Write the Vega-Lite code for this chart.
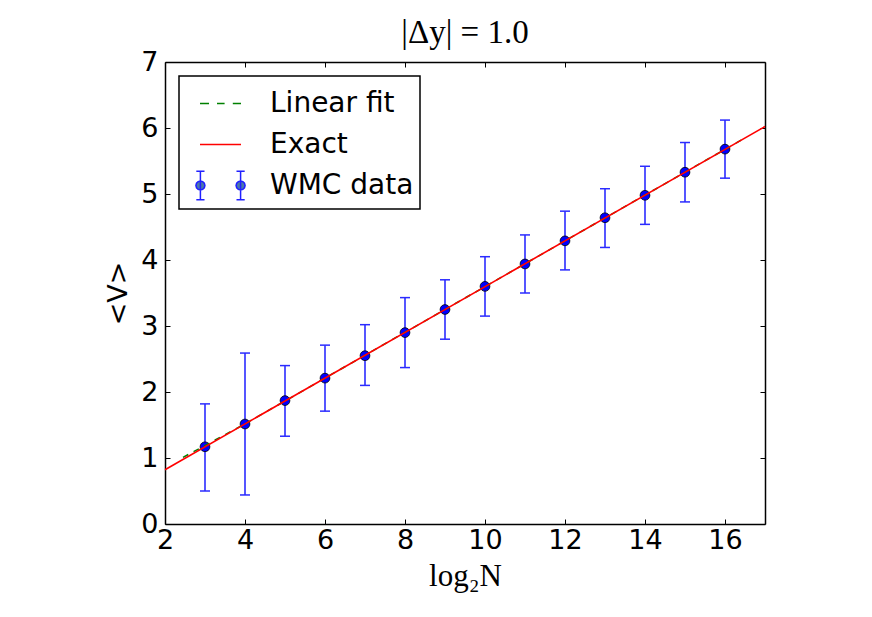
{
  "$schema": "https://vega.github.io/schema/vega-lite/v6.json",
  "width": 600,
  "height": 462,
  "autosize": "none",
  "padding": {"left": 165, "top": 62, "right": 107, "bottom": 93},
  "background": "white",
  "title": {
    "text": "|Δy| = 1.0",
    "font": "Liberation Serif",
    "fontSize": 33,
    "fontWeight": "normal",
    "color": "black",
    "baseline": "bottom",
    "frame": "group",
    "offset": 10,
    "dy": 45,
    "anchor": "middle"
  },
  "datasets": {
    "wmc": [
      {"x": 3, "y": 1.17, "lo": 0.50, "hi": 1.82},
      {"x": 4, "y": 1.515, "lo": 0.44, "hi": 2.59},
      {"x": 5, "y": 1.87, "lo": 1.33, "hi": 2.40},
      {"x": 6, "y": 2.21, "lo": 1.71, "hi": 2.71},
      {"x": 7, "y": 2.55, "lo": 2.10, "hi": 3.02},
      {"x": 8, "y": 2.90, "lo": 2.37, "hi": 3.43},
      {"x": 9, "y": 3.25, "lo": 2.80, "hi": 3.70},
      {"x": 10, "y": 3.60, "lo": 3.15, "hi": 4.05},
      {"x": 11, "y": 3.94, "lo": 3.50, "hi": 4.38},
      {"x": 12, "y": 4.29, "lo": 3.85, "hi": 4.74},
      {"x": 13, "y": 4.64, "lo": 4.19, "hi": 5.08},
      {"x": 14, "y": 4.98, "lo": 4.54, "hi": 5.42},
      {"x": 15, "y": 5.33, "lo": 4.88, "hi": 5.78},
      {"x": 16, "y": 5.68, "lo": 5.24, "hi": 6.12}
    ],
    "fit": [
      {"x": 2.45, "y": 1.01},
      {"x": 4, "y": 1.517},
      {"x": 16.5, "y": 5.85}
    ],
    "exact": [
      {"x": 2, "y": 0.823},
      {"x": 17, "y": 6.023}
    ],
    "keys": [
      {"series": "Linear fit"},
      {"series": "Exact"},
      {"series": "WMC data"}
    ]
  },
  "layer": [
    {
      "data": {"name": "wmc"},
      "mark": {"type": "rule", "color": "#2b2bff", "strokeWidth": 1.6, "opacity": 1},
      "encoding": {
        "x": {
          "field": "x", "type": "quantitative",
          "scale": {"domain": [2, 17], "nice": false, "zero": false},
          "axis": {
            "orient": "bottom", "values": [2, 4, 6, 8, 10, 12, 14, 16],
            "title": "log₂N", "titleFont": "Liberation Serif", "titleFontSize": 31,
            "titleFontWeight": "normal", "titleBaseline": "alphabetic",
            "titleX": 300, "titleY": 61, "titleAnchor": "middle"
          }
        },
        "y": {
          "field": "lo", "type": "quantitative",
          "scale": {"domain": [0, 7], "nice": false},
          "axis": {
            "orient": "left", "values": [0, 1, 2, 3, 4, 5, 6, 7],
            "title": "<V>", "titleFont": "DejaVu Sans", "titleFontSize": 27,
            "titleFontWeight": "normal", "titleBaseline": "middle",
            "titleAngle": -90, "titleX": -47, "titleY": 231, "titleAnchor": "middle"
          }
        },
        "y2": {"field": "hi"}
      }
    },
    {
      "data": {"name": "wmc"},
      "mark": {"type": "tick", "orient": "horizontal", "color": "#2b2bff", "size": 10, "thickness": 1.5, "opacity": 1},
      "encoding": {
        "x": {"field": "x", "type": "quantitative", "scale": {"domain": [2, 17], "nice": false, "zero": false}, "axis": null},
        "y": {"field": "lo", "type": "quantitative", "scale": {"domain": [0, 7], "nice": false}, "axis": null}
      }
    },
    {
      "data": {"name": "wmc"},
      "mark": {"type": "tick", "orient": "horizontal", "color": "#2b2bff", "size": 10, "thickness": 1.5, "opacity": 1},
      "encoding": {
        "x": {"field": "x", "type": "quantitative", "scale": {"domain": [2, 17], "nice": false, "zero": false}, "axis": null},
        "y": {"field": "hi", "type": "quantitative", "scale": {"domain": [0, 7], "nice": false}, "axis": null}
      }
    },
    {
      "data": {"name": "wmc"},
      "mark": {"type": "point", "shape": "circle", "filled": true, "fill": "#0000ff", "stroke": "black", "strokeWidth": 0.8, "size": 95, "opacity": 1},
      "encoding": {
        "x": {"field": "x", "type": "quantitative", "scale": {"domain": [2, 17], "nice": false, "zero": false}, "axis": null},
        "y": {"field": "y", "type": "quantitative", "scale": {"domain": [0, 7], "nice": false}, "axis": null}
      }
    },
    {
      "data": {"name": "fit"},
      "mark": {"type": "line", "color": "#008000", "strokeWidth": 1.5, "strokeDash": [6, 6]},
      "encoding": {
        "x": {"field": "x", "type": "quantitative", "scale": {"domain": [2, 17], "nice": false, "zero": false}, "axis": null},
        "y": {"field": "y", "type": "quantitative", "scale": {"domain": [0, 7], "nice": false}, "axis": null}
      }
    },
    {
      "data": {"name": "exact"},
      "mark": {"type": "line", "color": "#ff0000", "strokeWidth": 1.6},
      "encoding": {
        "x": {
          "field": "x", "type": "quantitative",
          "scale": {"domain": [2, 17], "nice": false, "zero": false},
          "axis": {"orient": "top", "values": [2, 4, 6, 8, 10, 12, 14, 16], "labels": false, "title": null}
        },
        "y": {
          "field": "y", "type": "quantitative",
          "scale": {"domain": [0, 7], "nice": false},
          "axis": {"orient": "right", "values": [0, 1, 2, 3, 4, 5, 6, 7], "labels": false, "title": null}
        }
      }
    },
    {
      "data": {"name": "keys"},
      "mark": {"type": "point", "filled": true, "opacity": 0},
      "encoding": {
        "shape": {
          "field": "series", "type": "nominal", "title": null,
          "scale": {
            "domain": ["Linear fit", "Exact", "WMC data"],
            "range": [
              "M-1,0H-0.56M-0.17,0H0.2M0.6,0H1",
              "M-1,0H1",
              "M-0.76,0L-0.79,0.11L-0.87,0.19L-0.98,0.22L-1.09,0.19L-1.17,0.11L-1.2,0L-1.17,-0.11L-1.09,-0.19L-0.98,-0.22L-0.87,-0.19L-0.79,-0.11ZM1.2,0L1.17,0.11L1.09,0.19L0.98,0.22L0.87,0.19L0.79,0.11L0.76,0L0.79,-0.11L0.87,-0.19L0.98,-0.22L1.09,-0.19L1.17,-0.11ZM-0.98,-0.69V0.69M-1.18,-0.69H-0.78M-1.18,0.69H-0.78M0.98,-0.69V0.69M0.78,-0.69H1.18M0.78,0.69H1.18"
            ]
          },
          "legend": {
            "orient": "top-left", "offset": 14, "padding": 6,
            "strokeColor": "black", "fillColor": "white",
            "symbolSize": 1681, "symbolStrokeWidth": 1.5, "symbolOffset": 14,
            "symbolFillColor": "#0000ff", "symbolOpacity": 1,
            "labelOffset": 28, "labelFont": "DejaVu Sans", "labelFontSize": 28,
            "labelColor": "black", "rowPadding": 5, "labelLimit": 400
          }
        },
        "stroke": {
          "field": "series", "type": "nominal", "title": null,
          "scale": {"domain": ["Linear fit", "Exact", "WMC data"], "range": ["#008000", "#ff0000", "#2020ff"]}
        }
      }
    }
  ],
  "resolve": {"axis": {"x": "independent", "y": "independent"}},
  "config": {
    "view": {"stroke": null},
    "axis": {
      "domainColor": "black", "domainWidth": 1.5,
      "tickColor": "black", "tickWidth": 1, "tickSize": -5,
      "labelFont": "DejaVu Sans", "labelFontSize": 27, "labelColor": "black",
      "titleColor": "black", "grid": false, "labelFlush": false, "labelOverlap": false
    },
    "axisBottom": {"labelPadding": 8},
    "axisLeft": {"labelPadding": 12},
    "legend": {"strokeWidth": 1.5}
  }
}
